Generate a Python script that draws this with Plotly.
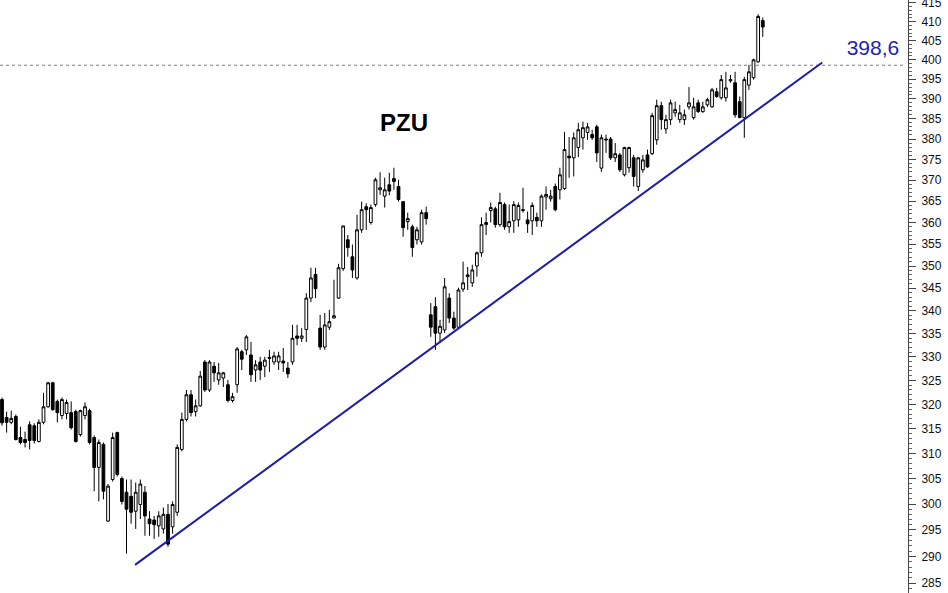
import math
import plotly.graph_objects as go

# ---- data ----
open_ = [321.0, 317.3, 316.3, 317.5, 313.2, 312.8, 315.8, 315.6, 312.4, 316.3,
         319.5, 324.5, 320.6, 317.7, 318.1, 318.3, 318.5, 313.8, 317.7, 318.7,
         313.2, 307.2, 311.8, 296.7, 304.8, 314.2, 305.0, 302.3, 301.5, 298.6,
         299.9, 302.3, 297.1, 296.9, 295.8, 295.2, 298.0, 295.6, 298.4, 310.8,
         316.9, 322.0, 318.5, 319.7, 328.9, 323.0, 328.0, 325.1, 325.5, 324.1,
         320.8, 324.1, 331.1, 331.5, 330.4, 327.2, 328.9, 328.0, 329.9, 328.9,
         328.9, 329.1, 327.6, 328.9, 334.5, 334.0, 335.9, 342.8, 348.1, 336.2,
         332.1, 336.4, 338.4, 342.8, 349.4, 356.0, 352.1, 347.3, 358.3, 363.7,
         360.0, 364.2, 367.7, 366.2, 368.9, 370.4, 368.5, 364.9, 360.2, 359.0,
         356.0, 355.5, 362.3,
         339.1, 340.9, 335.1, 335.8, 342.8, 338.4, 336.4, 344.8, 347.6, 346.2,
         350.0, 353.0, 359.5, 362.8, 363.2, 359.5, 364.2, 359.0, 360.4, 360.6,
         362.8, 360.6, 360.4, 361.2, 360.4, 366.0, 365.6, 368.5, 367.7, 368.0,
         375.8, 375.4, 377.9, 380.3, 381.6, 381.1, 383.0, 372.9, 380.0, 380.0,
         375.4, 376.1, 371.3, 373.0, 375.4, 368.5, 372.5, 376.1, 376.4, 379.8,
         388.3, 382.5, 384.8, 386.5, 384.8, 384.8, 388.0, 385.3, 389.0, 386.8,
         388.5, 388.0, 391.8, 390.3, 390.3, 394.6, 394.1, 389.3, 385.3, 393.5,
         395.4, 399.5, 410.3]

high = [321.4, 318.5, 318.7, 317.9, 315.4, 314.4, 316.5, 316.1, 316.9, 322.4,
        324.7, 324.7, 321.0, 321.4, 321.0, 320.6, 318.9, 318.9, 320.4, 319.1,
        313.6, 312.8, 312.2, 303.9, 314.2, 314.4, 305.4, 304.8, 304.8, 304.2,
        304.8, 303.5, 298.6, 297.7, 298.6, 299.3, 300.0, 300.5, 311.8, 318.3,
        323.0, 323.0, 321.0, 327.0, 329.3, 329.3, 328.9, 328.7, 326.8, 325.1,
        322.4, 332.1, 331.5, 334.7, 333.2, 329.3, 330.0, 330.0, 331.5, 331.1,
        331.1, 331.9, 328.9, 336.9, 336.9, 336.2, 343.9, 349.6, 349.6, 339.1,
        339.5, 340.2, 346.9, 350.5, 359.2, 357.1, 354.9, 361.8, 364.9, 364.5,
        364.2, 370.6, 371.9, 370.6, 371.8, 373.0, 370.1, 364.9, 362.3, 359.5,
        359.0, 363.0, 363.7,
        341.7, 343.0, 338.0, 347.3, 343.9, 339.8, 345.1, 351.0, 349.8, 350.3,
        353.3, 361.2, 362.3, 364.7, 363.7, 367.0, 364.7, 364.2, 365.0, 364.7,
        368.2, 362.6, 364.7, 362.3, 366.6, 368.5, 367.7, 369.2, 373.0, 381.8,
        380.5, 381.6, 384.0, 384.3, 384.0, 382.3, 383.5, 381.1, 381.1, 380.5,
        379.0, 376.6, 378.1, 378.1, 376.1, 375.6, 376.1, 377.4, 386.5, 389.8,
        389.3, 386.0, 389.8, 389.3, 388.5, 387.3, 393.0, 390.3, 389.8, 389.3,
        390.3, 392.8, 392.8, 396.1, 396.9, 396.1, 396.9, 390.6, 395.6, 398.7,
        400.3, 412.0, 411.1]

low = [315.6, 314.2, 315.9, 312.6, 311.8, 311.2, 310.8, 312.0, 312.2, 315.9,
       319.3, 318.7, 316.3, 316.9, 316.9, 314.8, 312.2, 313.4, 316.9, 311.8,
       302.5, 300.5, 300.9, 296.5, 304.4, 305.4, 299.9, 290.5, 296.2, 295.2,
       297.1, 293.9, 293.9, 293.3, 293.7, 294.3, 291.8, 294.3, 297.7, 310.4,
       316.5, 317.5, 317.5, 319.5, 322.6, 322.6, 324.7, 324.1, 323.6, 320.4,
       320.4, 322.4, 327.2, 330.4, 324.7, 324.7, 325.1, 325.7, 326.8, 328.3,
       327.2, 326.8, 325.5, 328.3, 332.5, 333.2, 333.2, 341.9, 342.8, 331.5,
       331.5, 335.8, 338.4, 342.6, 348.9, 352.1, 347.3, 346.9, 357.6, 358.3,
       359.5, 363.7, 366.5, 363.5, 366.4, 367.7, 364.9, 356.7, 358.3, 352.1,
       354.9, 354.9, 359.5,
       334.3, 331.5, 333.0, 335.1, 337.3, 335.8, 336.2, 344.2, 344.6, 345.3,
       347.6, 352.1, 357.1, 360.0, 358.8, 359.0, 358.3, 357.6, 357.6, 359.0,
       362.3, 357.6, 357.1, 359.0, 359.0, 363.0, 364.9, 362.6, 365.4, 367.7,
       370.6, 370.9, 375.6, 377.4, 379.8, 379.8, 374.4, 372.0, 376.6, 374.9,
       374.4, 372.0, 370.9, 371.8, 368.5, 367.4, 371.8, 373.0, 376.1, 378.6,
       382.3, 381.3, 383.5, 385.5, 384.0, 383.5, 387.3, 384.8, 386.5, 386.5,
       388.0, 387.8, 390.3, 389.8, 389.3, 394.1, 385.3, 385.3, 380.3, 392.3,
       394.9, 399.2, 406.0]

close = [316.2, 316.3, 317.1, 312.8, 312.2, 312.2, 312.6, 312.6, 316.3, 319.5,
         324.5, 318.9, 318.3, 321.0, 320.4, 315.2, 312.4, 318.7, 319.5, 312.2,
         307.2, 312.2, 302.5, 303.5, 313.2, 305.8, 300.5, 299.0, 298.4, 302.3,
         303.9, 297.7, 296.2, 296.0, 297.7, 298.0, 292.3, 299.9, 311.2, 316.9,
         322.0, 318.3, 319.7, 325.9, 323.0, 328.9, 326.6, 326.6, 326.6, 320.8,
         321.6, 331.7, 329.5, 334.3, 326.2, 328.3, 327.2, 329.3, 329.7, 330.2,
         330.2, 328.7, 326.4, 334.0, 334.0, 334.5, 342.8, 347.3, 344.9, 332.1,
         336.9, 337.6, 338.9, 349.6, 359.2, 354.2, 349.1, 358.3, 363.0, 363.0,
         363.5, 370.1, 368.2, 367.7, 367.4, 369.7, 365.4, 358.8, 360.9, 354.2,
         358.3, 362.3, 360.9,
         336.4, 335.1, 336.6, 345.3, 338.4, 336.2, 344.6, 346.2, 348.0, 349.1,
         353.0, 359.5, 360.0, 363.5, 359.5, 364.7, 359.0, 360.2, 364.2, 364.0,
         363.0, 359.7, 364.0, 360.4, 366.2, 366.6, 366.2, 363.0, 371.3, 377.4,
         375.4, 380.3, 382.3, 382.8, 383.0, 380.3, 376.6, 380.3, 379.8, 375.4,
         376.4, 372.5, 377.9, 377.9, 370.9, 375.4, 374.9, 373.2, 385.8, 388.3,
         384.8, 384.8, 389.0, 387.3, 386.5, 386.0, 389.0, 388.0, 386.8, 388.0,
         389.8, 392.3, 390.6, 394.9, 392.8, 394.9, 386.0, 385.3, 394.9, 396.9,
         400.0, 411.4, 408.6]

sessions = list(range(len(close)))

trend_x = [28.85, 177.9]
trend_y = [288.4, 399.3]

level_value = 398.6
level_label = "398,6"
title_text = "PZU"

tick_values = list(range(285, 416, 5))
tick_labels = [str(v) for v in tick_values]
minor_values = list(range(283, 416, 1))

# ---- layout constants ----
X_MIN, X_MAX = -0.434, 196.5
Y_MIN, Y_MAX = 283.2, 415.8
FONT = "Arial, Liberation Sans, sans-serif"

fig = go.Figure()

fig.add_trace(go.Candlestick(
    x=sessions, open=open_, high=high, low=low, close=close,
    increasing=dict(line=dict(color="#000000", width=1), fillcolor="#ffffff"),
    decreasing=dict(line=dict(color="#000000", width=1), fillcolor="#000000"),
    whiskerwidth=0, showlegend=False, hoverinfo="skip",
))

fig.add_trace(go.Scatter(
    x=[X_MIN, 195.9], y=[level_value, level_value], mode="lines",
    line=dict(color="#7a7a7a", width=1, dash="dot"), showlegend=False, hoverinfo="skip",
))

fig.add_trace(go.Scatter(
    x=trend_x, y=trend_y, mode="lines",
    line=dict(color="#1c1ca8", width=2), showlegend=False, hoverinfo="skip",
))

fig.add_trace(go.Scatter(
    x=[188.9], y=[402.6], mode="text", text=[level_label],
    textfont=dict(family=FONT, size=21, color="#2323b4"),
    showlegend=False, hoverinfo="skip",
))

fig.add_trace(go.Scatter(
    x=[87.2], y=[383.5], mode="text", text=["<b>" + title_text + "</b>"],
    textfont=dict(family=FONT, size=24, color="#000000"),
    showlegend=False, hoverinfo="skip",
))

fig.update_layout(
    width=948, height=593,
    margin=dict(l=0, r=40, t=0, b=0, autoexpand=False),
    paper_bgcolor="#ffffff", plot_bgcolor="#ffffff",
    showlegend=False,
    boxgap=0.15,
    xaxis=dict(visible=False, range=[X_MIN, X_MAX], rangeslider=dict(visible=False),
               fixedrange=True, automargin=False),
    yaxis=dict(
        type="log", range=[math.log10(Y_MIN), math.log10(Y_MAX)], side="right",
        automargin=False,
        showgrid=False, zeroline=False, showline=True, linecolor="#444444", linewidth=1,
        ticks="outside", ticklen=7, tickwidth=1, tickcolor="#444444",
        tickmode="array", tickvals=tick_values, ticktext=tick_labels,
        ticklabelstandoff=3, ticklabeloverflow="allow",
        tickfont=dict(family=FONT, size=12, color="#111111"),
        minor=dict(tickmode="array", tickvals=minor_values, ticks="outside",
                   ticklen=3, tickcolor="#666666", showgrid=False),
        fixedrange=True,
    ),
)

fig.write_html("out.html", config={"displayModeBar": False},
               post_script="document.body.style.margin='0px';")
